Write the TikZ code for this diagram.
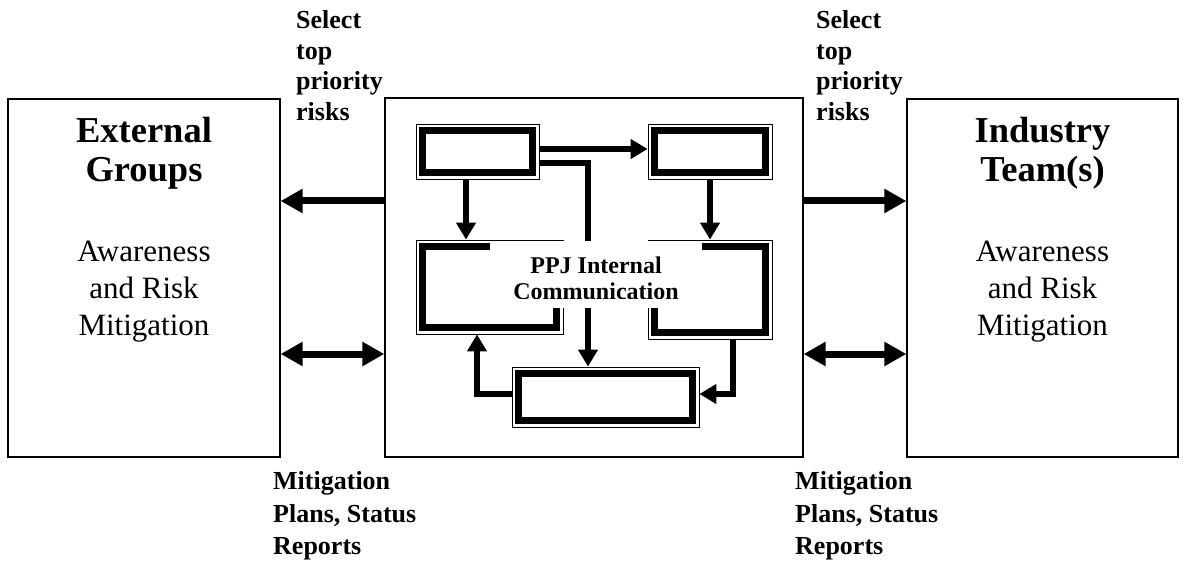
\documentclass[tikz,border=0pt]{standalone}
\usepackage{fontspec}
\setmainfont{Liberation Serif}
\usetikzlibrary{arrows.meta,calc}
\begin{document}
\begin{tikzpicture}[x=1pt,y=-1pt,
  outerbox/.style={draw, line width=1.3pt, rectangle, inner sep=0pt},
  framebox/.style={draw, line width=0.8pt, rectangle, inner sep=0pt},
  heading/.style={font=\fontsize{36.5}{40}\selectfont\bfseries, anchor=base, inner sep=0pt},
  body/.style={font=\fontsize{31}{36}\selectfont, anchor=base, inner sep=0pt},
  note/.style={font=\fontsize{26}{30}\selectfont\bfseries, anchor=base west, inner sep=0pt},
  ppj/.style={font=\fontsize{24}{26}\selectfont\bfseries, anchor=base, inner sep=0pt},
  flow/.style={line width=6.5pt, -{Triangle[length=17pt,width=19pt]}},
  bigarrow/.style={line width=7pt, -{Triangle[length=22pt,width=23pt]}},
  bigboth/.style={line width=7pt, {Triangle[length=22pt,width=23pt]}-{Triangle[length=22pt,width=23pt]}},
]
\useasboundingbox (0,0) rectangle (1183,561);

% the three main boxes
\node[outerbox, minimum width=272pt, minimum height=358pt] (ext) at (144,278) {};
\node[outerbox, minimum width=418pt, minimum height=359pt] (mid) at (594,277.5) {};
\node[outerbox, minimum width=271pt, minimum height=358pt] (ind) at (1042.5,278) {};

% arrows between the main boxes
\draw[bigarrow] (mid.west |- 0,201) -- (ext.east |- 0,201);
\draw[bigboth] (ext.east |- 0,354) -- (mid.west |- 0,354);
\draw[bigarrow] (mid.east |- 0,201) -- (ind.west |- 0,201);
\draw[bigboth] (mid.east |- 0,354) -- (ind.west |- 0,354);

% inner boxes with a thin outline and a heavy inner frame
\node[framebox, minimum width=123pt, minimum height=55pt] (A) at (477.5,151.5) {};
\node[framebox, minimum width=124pt, minimum height=55pt] (B) at (710,151.5) {};
\node[framebox, minimum width=147pt, minimum height=94pt] (C) at (489.5,287) {};
\node[framebox, minimum width=124pt, minimum height=99pt] (D) at (710,289.5) {};
\node[framebox, minimum width=187pt, minimum height=60pt] (E) at (605.5,397) {};
\foreach \n in {A,B,C,D,E}
  \draw[line width=7pt] ($(\n.north west)+(7,7)$) rectangle ($(\n.south east)+(-7,-7)$);

% internal flow
\draw[flow] (A.east |- 0,149) -- (B.west |- 0,149);
\draw[flow] (A.south -| 466,0) -- (C.north -| 466,0);
\draw[flow] (A.east |- 0,163) -| (E.north -| 588,0);
\draw[flow] (B.south) -- (D.north);
\draw[flow] (D.south -| 733,0) |- (E.east |- 0,394);
\draw[flow] (E.west |- 0,394) -| (C.south -| 477,0);

% central caption on a white patch
\node[fill=white, minimum width=212pt, minimum height=67pt, inner sep=0pt] (lbl) at (596,274.5) {};
\begin{scope}
  \clip (lbl.north west) rectangle (lbl.east |- 0,298.5);
  \node[ppj] (ppj1) at (596,273) {PPJ Internal};
  \node[ppj] (ppj2) at (596,299) {Communication};
\end{scope}

% texts of the side boxes
\node[heading] (e1) at (144,143) {External};
\node[heading] (e2) at (144,182) {Groups};
\node[body] (e3) at (144,262) {Awareness};
\node[body] (e4) at (144,298.5) {and Risk};
\node[body] (e5) at (144,335) {Mitigation};

\node[heading] (i1) at (1042.5,143) {Industry};
\node[heading] (i2) at (1042.5,182) {Team(s)};
\node[body] (i3) at (1042.5,262) {Awareness};
\node[body] (i4) at (1042.5,298.5) {and Risk};
\node[body] (i5) at (1042.5,335) {Mitigation};

% arrow labels
\node[note] (s1) at (296,29) {Select};
\node[note] (s2) at (296,59.5) {top};
\node[note] (s3) at (296,90) {priority};
\node[note] (s4) at (296,120.5) {risks};
\node[note] (r1) at (816,29) {Select};
\node[note] (r2) at (816,59.5) {top};
\node[note] (r3) at (816,90) {priority};
\node[note] (r4) at (816,120.5) {risks};

\node[note] (m1) at (273,489) {Mitigation};
\node[note] (m2) at (273,522) {Plans, Status};
\node[note] (m3) at (273,554.5) {Reports};
\node[note] (n1) at (795,489) {Mitigation};
\node[note] (n2) at (795,522) {Plans, Status};
\node[note] (n3) at (795,554.5) {Reports};
\end{tikzpicture}
\end{document}
